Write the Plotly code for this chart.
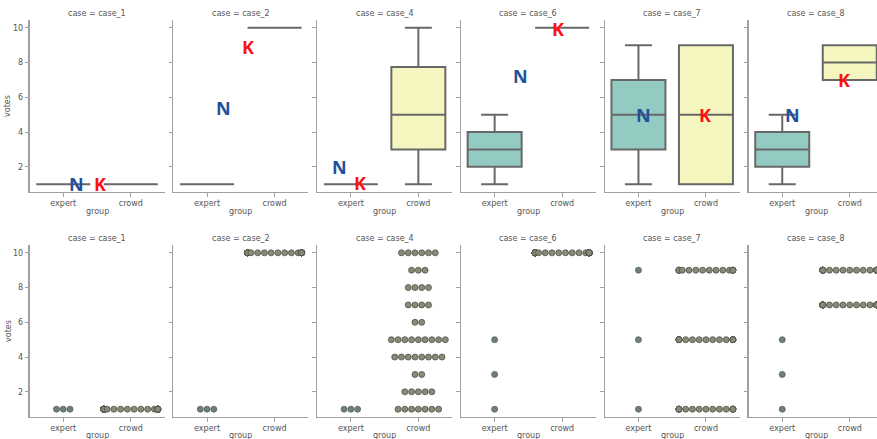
import numpy as np
import plotly.graph_objects as go

cases = ["case_1", "case_2", "case_4", "case_6", "case_7", "case_8"]
groups = ["expert", "crowd"]
y_ticks = [2, 4, 6, 8, 10]

expert_votes = {
    "case_1": [1, 1, 1],
    "case_2": [1, 1, 1],
    "case_4": [1, 1, 1],
    "case_6": [1, 3, 5],
    "case_7": [1, 5, 9],
    "case_8": [1, 3, 5],
}
crowd_levels = {
    "case_1": [1],
    "case_2": [10],
    "case_4": [1, 2, 3, 4, 5, 6, 7, 8, 9, 10],
    "case_6": [10],
    "case_7": [1, 5, 9],
    "case_8": [7, 9],
}
crowd_counts = {
    "case_1": [50],
    "case_2": [50],
    "case_4": [7, 5, 2, 8, 9, 2, 4, 4, 3, 6],
    "case_6": [50],
    "case_7": [17, 17, 16],
    "case_8": [25, 25],
}
# annotation positions (x in category units, y in votes)
n_pos = {"case_1": (0.2, 1.0), "case_2": (0.24, 5.4), "case_4": (-0.17, 2.0),
         "case_6": (0.39, 7.25), "case_7": (0.07, 5.0), "case_8": (0.15, 5.0)}
k_pos = {"case_1": (0.55, 1.0), "case_2": (0.6, 8.9), "case_4": (0.14, 1.05),
         "case_6": (0.94, 9.95), "case_7": (0.98, 5.0), "case_8": (0.91, 7.0)}

W, H = 877, 439
fill_colors = ["#93cbc2", "#f5f5bf"]
line_gray = "#686868"
dot_fill = ["#6f7f7a", "#8a8a79"]
dot_edge = ["#56625e", "#505048"]
axis_col = "#a0a0a0"
text_col = "#555555"
font_fam = "DejaVu Sans"

unit = 67.5
lefts = [29.5 + 143.8 * i for i in range(6)]
row_dom = [[1 - 192 / H, 1 - 20 / H], [1 - 417 / H, 1 - 245 / H]]
row_title_y = [14, 238]
row_group_y = [212, 435]

fig = go.Figure()
layout = {}
annotations = []


def crowd_data(c):
    out = []
    for v, n in zip(crowd_levels[c], crowd_counts[c]):
        out += [v] * n
    return np.array(out, dtype=float)


def box_stats(d):
    d = np.asarray(d, dtype=float)
    q1, med, q3 = np.percentile(d, [25, 50, 75])
    iqr = q3 - q1
    lo = d[d >= q1 - 1.5 * iqr].min()
    hi = d[d <= q3 + 1.5 * iqr].max()
    return q1, med, q3, lo, hi


def swarm(d, center, step=0.1, half=0.4):
    xs, ys = [], []
    vals, counts = np.unique(d, return_counts=True)
    for v, n in zip(vals, counts):
        offs = (np.arange(n) - (n - 1) / 2) * step
        offs = np.clip(offs, -half, half)
        xs += list(center + offs)
        ys += [v] * n
    return xs, ys


for row in range(2):
    for i, c in enumerate(cases):
        k = row * 6 + i + 1
        xa = "x" if k == 1 else f"x{k}"
        ya = "y" if k == 1 else f"y{k}"
        left = lefts[i]
        right = left + 2 * unit
        xr = [-0.5, 1.5]
        if right > W:
            xr = [-0.5, -0.5 + (W - left) / unit]
            right = W
        dom = [left / W, right / W]
        layout["xaxis" if k == 1 else f"xaxis{k}"] = dict(
            domain=dom, anchor=ya, range=xr, tickvals=[0, 1], ticktext=groups,
            showline=True, linecolor=axis_col, linewidth=1.2, ticks="outside",
            ticklen=3.5, tickcolor=axis_col, tickfont=dict(size=8, color=text_col),
            showgrid=False, zeroline=False, automargin=False)
        layout["yaxis" if k == 1 else f"yaxis{k}"] = dict(
            domain=row_dom[row], anchor=xa, range=[0.55, 10.45], tickvals=y_ticks,
            showticklabels=(i == 0), showline=True, linecolor=axis_col, linewidth=1.2,
            ticks="outside", ticklen=3.5, tickcolor=axis_col,
            tickfont=dict(size=8, color=text_col), showgrid=False, zeroline=False,
            automargin=False)
        datasets = [np.array(expert_votes[c], dtype=float), crowd_data(c)]
        cx = (left + unit) / W
        annotations.append(dict(text=f"case = {c}", xref="paper", yref="paper",
                                x=cx, y=1 - row_title_y[row] / H, showarrow=False,
                                xanchor="center", yanchor="middle",
                                font=dict(size=8, color=text_col, family=font_fam)))
        annotations.append(dict(text="group", xref="paper", yref="paper",
                                x=cx, y=1 - row_group_y[row] / H, showarrow=False,
                                xanchor="center", yanchor="middle",
                                font=dict(size=8, color=text_col, family=font_fam)))
        if row == 0:
            for g, d in enumerate(datasets):
                q1, med, q3, lo, hi = box_stats(d)
                fig.add_trace(go.Box(
                    x=[g], q1=[q1], median=[med], q3=[q3], lowerfence=[lo], upperfence=[hi],
                    width=0.8, whiskerwidth=0.5, fillcolor=fill_colors[g],
                    line=dict(color=line_gray, width=2), boxpoints=False,
                    xaxis=xa, yaxis=ya, showlegend=False, hoverinfo="skip"))
            nx, ny = n_pos[c]
            kx, ky = k_pos[c]
            annotations.append(dict(text="<b>N</b>", xref=xa, yref=ya, x=nx, y=ny,
                                    showarrow=False, xanchor="center", yanchor="middle",
                                    font=dict(size=18, color="#22509a", family="Open Sans")))
            annotations.append(dict(text="<b>K</b>", xref=xa, yref=ya, x=kx, y=ky,
                                    showarrow=False, xanchor="center", yanchor="middle",
                                    font=dict(size=18, color="#ff1010", family="Open Sans")))
        else:
            for g, d in enumerate(datasets):
                xs, ys = swarm(d, g)
                fig.add_trace(go.Scatter(
                    x=xs, y=ys, mode="markers", xaxis=xa, yaxis=ya, showlegend=False,
                    marker=dict(size=6, color=dot_fill[g],
                                line=dict(color=dot_edge[g], width=0.8)),
                    hoverinfo="skip"))

for row in range(2):
    yc = (row_dom[row][0] + row_dom[row][1]) / 2
    annotations.append(dict(text="votes", xref="paper", yref="paper", x=8 / W, y=yc,
                            textangle=-90, showarrow=False, xanchor="center",
                            yanchor="middle",
                            font=dict(size=8, color=text_col, family=font_fam)))

fig.update_layout(**layout)
fig.update_layout(
    width=W, height=H, margin=dict(l=0, r=0, t=0, b=0),
    paper_bgcolor="white", plot_bgcolor="white",
    font=dict(family=font_fam, size=8, color=text_col),
    annotations=annotations, boxmode="overlay", hovermode=False,
)
fig.write_html("out.html", config={"displayModeBar": False, "staticPlot": True},
               post_script="document.body.style.margin='0';document.body.style.overflow='hidden';")
